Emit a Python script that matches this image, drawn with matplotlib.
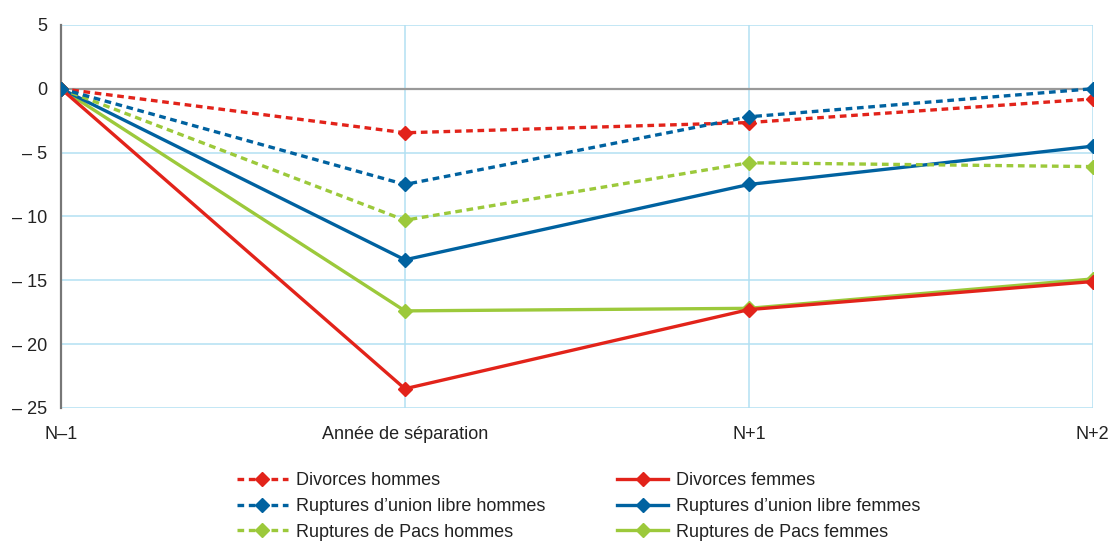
import matplotlib
matplotlib.use("Agg")
from matplotlib import pyplot as plt

plt.rcParams["font.family"] = ["Liberation Sans Narrow", "Liberation Sans", "DejaVu Sans"]

# categories and series (% change relative to N-1)
periods = ["N\u20131", "Année de séparation", "N+1", "N+2"]
divorces_hommes = [0, -3.45, -2.65, -0.8]
union_libre_hommes = [0, -7.5, -2.2, 0.0]
pacs_hommes = [0, -10.3, -5.8, -6.1]
divorces_femmes = [0, -23.5, -17.3, -15.1]
union_libre_femmes = [0, -13.4, -7.5, -4.5]
pacs_femmes = [0, -17.4, -17.2, -14.9]

y_ticks = [5, 0, -5, -10, -15, -20, -25]
y_tick_labels = ["5", "0", "\u2013 5", "\u2013 10", "\u2013 15", "\u2013 20", "\u2013 25"]

RED = "#e2231a"
BLUE = "#0062a0"
GREEN = "#9cc93b"
GRID = "#b3e0f2"

fig = plt.figure(figsize=(11.13, 5.41), dpi=100)
ax = fig.add_axes([0.0548, 0.246, 0.927, 0.708])

x = list(range(len(periods)))
dash = (0, (2.0, 1.4))
series = [
    (pacs_femmes, GREEN, "-", "Ruptures de Pacs femmes"),
    (union_libre_femmes, BLUE, "-", "Ruptures d\u2019union libre femmes"),
    (divorces_femmes, RED, "-", "Divorces femmes"),
    (pacs_hommes, GREEN, dash, "Ruptures de Pacs hommes"),
    (divorces_hommes, RED, dash, "Divorces hommes"),
    (union_libre_hommes, BLUE, dash, "Ruptures d\u2019union libre hommes"),
]
handles = {}
for vals, col, ls, lab in series:
    (ln,) = ax.plot(x, vals, color=col, linestyle=ls, lw=2.4, marker="D",
                    ms=7, mec=col, mfc=col, label=lab, zorder=3)
    handles[lab] = ln

ax.set_xlim(0, 3)
ax.set_ylim(-25, 5)
ax.set_xticks(x)
ax.set_xticklabels(periods, fontsize=13, color="#222222")
ax.set_yticks(y_ticks)
ax.set_yticklabels(y_tick_labels, fontsize=13, color="#222222")
ax.tick_params(axis="x", length=0, pad=13)
ax.tick_params(axis="y", length=0, pad=10)

ax.grid(True, color=GRID, lw=1.1, zorder=0)
ax.set_axisbelow(True)
ax.axhline(0, color="#999999", lw=1.6, zorder=1)
for s in ["top", "right", "bottom"]:
    ax.spines[s].set_visible(False)
ax.spines["left"].set_color("#777777")
ax.spines["left"].set_linewidth(1.6)

order = ["Divorces hommes", "Ruptures d\u2019union libre hommes", "Ruptures de Pacs hommes",
         "Divorces femmes", "Ruptures d\u2019union libre femmes", "Ruptures de Pacs femmes"]
fig.legend([handles[k] for k in order], order, ncol=2, loc="upper left",
           bbox_to_anchor=(0.213, 0.127), frameon=False, fontsize=13,
           handlelength=2.8, handletextpad=0.45, columnspacing=4.0,
           labelspacing=0.48, borderaxespad=0, borderpad=0,
           labelcolor="#222222")

fig.savefig("out.png", dpi=100)
